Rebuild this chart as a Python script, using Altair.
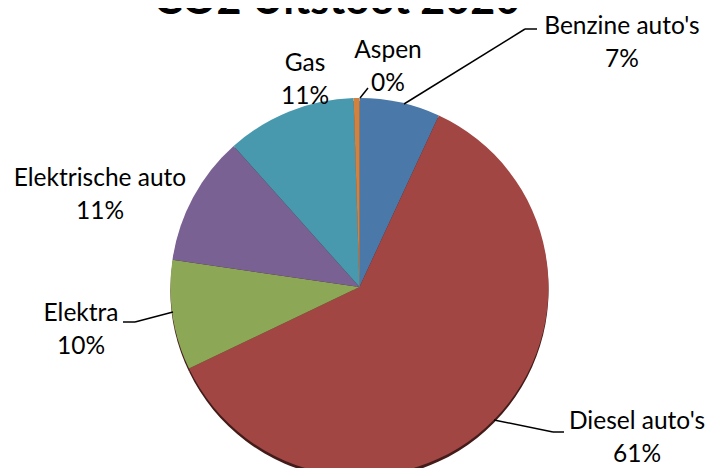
import altair as alt
import pandas as pd

categories = ["Benzine auto's", "Diesel auto's", "Elektra", "Elektrische auto", "Gas", "Aspen"]
values = [6.9, 61.0, 9.4, 11.1, 11.1, 0.5]
percent_labels = ["7%", "61%", "10%", "11%", "11%", "0%"]
colors = ["#4A78A9", "#A24643", "#8CA755", "#7A6193", "#4899AE", "#D2823F"]
title_text = "CO2 Uitstoot 2020"

W, H = 698, 460
CX, CY, R = 351.5, 279, 189

df = pd.DataFrame({"cat": categories, "val": values, "order": list(range(len(values))), "color": colors})
df["label"] = [f"{c}\n{p}" for c, p in zip(categories, percent_labels)]

theta = alt.Theta("val:Q", stack=True, scale=alt.Scale(domain=[0, sum(values)], range=[0, 6.28318530718]))
order = alt.Order("order:Q")

shadow = alt.Chart(df).mark_arc(radius=R, color="#431C1A").encode(
    theta=theta, order=order, x=alt.value(CX), y=alt.value(CY + 3))
pie = alt.Chart(df).mark_arc(radius=R).encode(
    theta=theta, order=order, x=alt.value(CX), y=alt.value(CY),
    fill=alt.Fill("color:N", scale=None))

label_pos = {
    "Benzine auto's": (614, 19),
    "Diesel auto's": (629, 414),
    "Elektra": (73, 306),
    "Elektrische auto": (92, 171),
    "Gas": (297, 56),
    "Aspen": (380, 43),
}
layers = [shadow, pie]
for cat, (lx, ly) in label_pos.items():
    layers.append(
        alt.Chart(df[df.cat == cat]).mark_text(
            font="Lato", fontSize=24.5, color="#000000", lineBreak="\n",
            lineHeight=33, align="center", baseline="middle"
        ).encode(text="label:N", x=alt.value(lx), y=alt.value(ly))
    )

leaders = [
    (396, 96, 517, 21), (517, 21, 529, 21),
    (352, 90, 360, 80),
    (486, 412, 545, 424), (545, 424, 556, 424),
    (165, 304, 127, 314), (127, 314, 115, 314),
]
for x1, y1, x2, y2 in leaders:
    layers.append(
        alt.Chart(df.head(1)).mark_rule(color="#000000", strokeWidth=1.5).encode(
            x=alt.value(x1), x2=alt.value(x2), y=alt.value(y1), y2=alt.value(y2))
    )

layers.append(
    alt.Chart(df.head(1)).transform_calculate(t=f"'{title_text}'").mark_text(
        font="Lato", fontSize=43, fontWeight="bold", color="#000000", align="center", baseline="alphabetic"
    ).encode(text="t:N", x=alt.value(329), y=alt.value(6))
)

chart = alt.layer(*layers).properties(
    width=W, height=H, padding=0, autosize=alt.AutoSizeParams(type="none")
).configure_view(stroke=None)

chart.save("out.html", embed_options={"renderer": "svg", "actions": False})
